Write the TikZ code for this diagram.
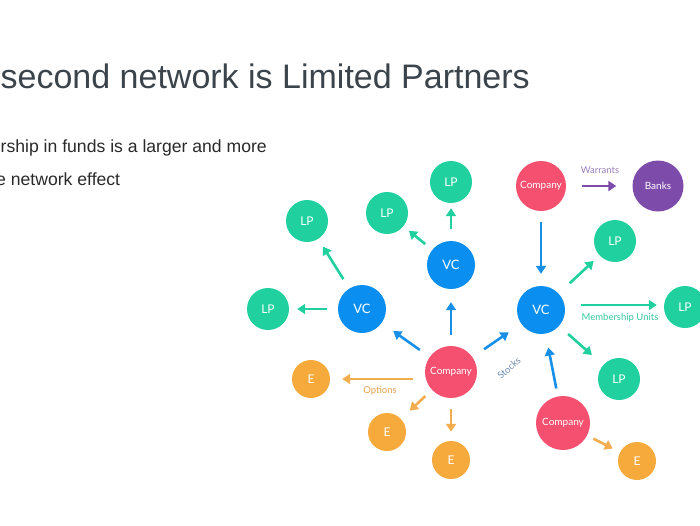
\documentclass[tikz,border=0pt]{standalone}
\usepackage{fontspec}
\setmainfont{Liberation Sans}
\newfontfamily\nodefont{Lato}
\usetikzlibrary{arrows.meta}
\definecolor{lpc}{HTML}{20D09F}
\definecolor{vcc}{HTML}{0A8FF0}
\definecolor{coc}{HTML}{F5506F}
\definecolor{ec}{HTML}{F6AA3C}
\definecolor{bkc}{HTML}{7D4CAB}
\definecolor{titlec}{HTML}{3B444B}
\definecolor{bodyc}{HTML}{2A2A2A}
\definecolor{blarr}{HTML}{1890E8}
\definecolor{orarr}{HTML}{F2AE4E}
\definecolor{warrc}{HTML}{9C7FBD}
\definecolor{optc}{HTML}{E7A04A}
\definecolor{memc}{HTML}{35C9A0}
\definecolor{stkc}{HTML}{6F8FB0}
\tikzset{
  circ/.style={circle,inner sep=0pt,text=white,font=\nodefont\fontsize{12}{12}\selectfont},
  lp/.style={circ,fill=lpc,minimum size=42pt},
  vc/.style={circ,fill=vcc,minimum size=48pt,font=\nodefont\fontsize{13}{13}\selectfont},
  co/.style={circ,fill=coc,minimum size=52pt,font=\nodefont\fontsize{10}{10}\selectfont},
  ee/.style={circ,fill=ec,minimum size=38pt},
  bk/.style={circ,fill=bkc,minimum size=51pt,font=\nodefont\fontsize{10}{10}\selectfont},
  arr/.style={line width=2.6pt,-{Triangle[length=8pt,width=10pt]}},
  tarr/.style={arr,draw=lpc},
  barr/.style={arr,draw=blarr},
  oarr/.style={arr,draw=orarr},
  parr/.style={arr,draw=bkc},
  lbl/.style={font=\nodefont\fontsize{9.5}{9.5}\selectfont,inner sep=0pt}
}
\begin{document}
\begin{tikzpicture}[x=1pt,y=-1pt]
\useasboundingbox (0,0) rectangle (700,525);
\fill[white] (0,0) rectangle (700,525);
% texts
\node[anchor=base east,inner sep=0pt,text=titlec,font=\fontsize{34}{34}\selectfont] (title) at (530,88) {second network is Limited Partners};
\node[anchor=base east,inner sep=0pt,text=bodyc,font=\fontsize{17.6}{17.6}\selectfont] (b1) at (267,152) {rship in funds is a larger and more};
\node[anchor=base west,inner sep=0pt,text=bodyc,font=\fontsize{17.6}{17.6}\selectfont] (b2) at (-4,185) {e network effect};
% nodes
\node[lp] (lp1) at (451,182) {LP};
\node[lp] (lp2) at (307,221) {LP};
\node[lp] (lp3) at (387,213) {LP};
\node[vc] (vct) at (451,265) {VC};
\node[vc] (vcl) at (362,309) {VC};
\node[lp] (lpl) at (268,309) {LP};
\node[co] (co) at (451,372) {Company};
\node[ee] (el) at (311,379) {E};
\node[ee] (em) at (387,432) {E};
\node[ee] (eb) at (451,460) {E};
\node[co,minimum size=50pt] (cot) at (541,186) {Company};
\node[bk] (bk) at (658,186) {Banks};
\node[lp] (lpa) at (615,241) {LP};
\node[vc] (vcr) at (541,310) {VC};
\node[lp] (lpr) at (685,307) {LP};
\node[lp] (lpb) at (619,379) {LP};
\node[co,minimum size=54pt] (cob) at (563,423) {Company};
\node[ee] (er) at (637,461) {E};
% arrows
\draw[tarr,shorten <=12pt,shorten >=5pt] (vct) -- (lp1);
\draw[tarr,shorten <=9pt,shorten >=7pt] (vct) -- (lp3);
\draw[tarr,shorten <=11pt,shorten >=9pt] (vcl) -- (lp2);
\draw[tarr,shorten <=11pt,shorten >=8pt] (vcl) -- (lpl);
\draw[barr,shorten <=11pt,shorten >=13pt] (co) -- (vct);
\draw[barr,shorten <=12pt,shorten >=14pt] (co) -- (vcl);
\draw[barr,shorten <=14pt,shorten >=15pt] (co) -- (vcr);
\draw[oarr,shorten <=12pt,shorten >=12pt] (el -| co.west) -- (el.east);
\draw[oarr,shorten <=9pt,shorten >=12pt] (co) -- (em);
\draw[oarr,shorten <=11pt,shorten >=9pt] (co) -- (eb);
\draw[barr,shorten <=11pt,shorten >=12pt] (cot) -- (vcr);
\draw[parr,shorten <=16pt,shorten >=16pt] (cot) -- (bk);
\draw[tarr,shorten <=15pt,shorten >=8pt] (vcr) -- (lpa);
\draw[tarr,shorten <=16pt,shorten >=7pt] (vcr.east |- 0,305) -- (lpr.west |- 0,305);
\draw[tarr,shorten <=12pt,shorten >=15pt] (vcr) -- (lpb);
\draw[barr,shorten <=8pt,shorten >=14pt] (cob) -- (vcr);
\draw[oarr,shorten <=7pt,shorten >=8pt] (cob) -- (er);
% labels
\node[lbl,text=warrc] (lw) at (600,170) {Warrants};
\node[lbl,text=optc] (lo) at (380,391) {Options};
\node[lbl,text=memc] (lm) at (620,318) {Membership Units};
\node[lbl,text=stkc,rotate=42] (ls) at (509,368) {Stocks};
\end{tikzpicture}
\end{document}
